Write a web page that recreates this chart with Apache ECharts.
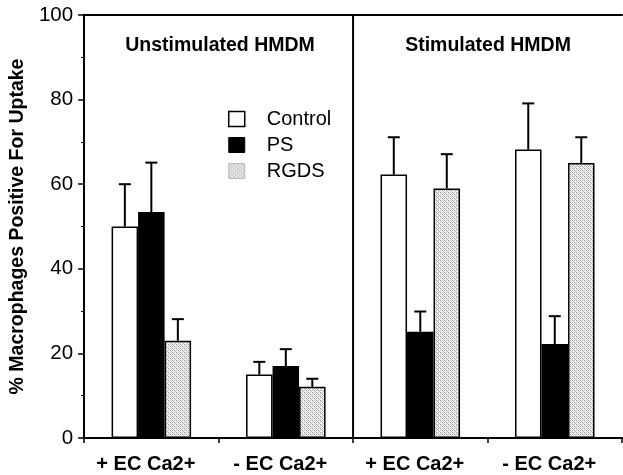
<!DOCTYPE html>
<html>
<head>
<meta charset="utf-8">
<script src="https://cdn.jsdelivr.net/npm/echarts@6/dist/echarts.min.js"></script>
<style>html,body{margin:0;padding:0;background:#fff;}#c{width:623px;height:475px;}</style>
</head>
<body>
<div id="c"></div>
<script>
const categories = ['+ EC Ca2+', '- EC Ca2+', '+ EC Ca2+', '- EC Ca2+'];
const seriesNames = ['Control', 'PS', 'RGDS'];
const controlValues = [50, 15, 62.3, 68.2];
const psValues = [53.4, 17, 25.1, 22.2];
const rgdsValues = [23, 12.1, 59, 65];
const controlErrTop = [60, 18, 71.1, 79.1];
const psErrTop = [65.1, 21, 29.9, 28.8];
const rgdsErrTop = [28.1, 14, 67.1, 71.1];
const yTicks = [0, 20, 40, 60, 80, 100];
const panelTitles = ['Unstimulated HMDM', 'Stimulated HMDM'];
const dividerAt = [2];

// stipple pattern
const pc = document.createElement('canvas');
pc.width = 4; pc.height = 4;
const pctx = pc.getContext('2d');
pctx.fillStyle = '#f4f4f4'; pctx.fillRect(0, 0, 4, 4);
pctx.fillStyle = '#9a9a9a'; pctx.fillRect(0, 0, 1, 1); pctx.fillRect(2, 2, 1, 1);
pctx.fillStyle = '#b8b8b8'; pctx.fillRect(1, 1, 1, 1); pctx.fillRect(3, 3, 1, 1); pctx.fillRect(2, 0, 1, 1); pctx.fillRect(0, 2, 1, 1);

const BAR_W = 26.5;
const FONT = 'Liberation Sans, Arial, Helvetica, sans-serif';
const fills = ['#ffffff', '#000000', {image: pc, repeat: 'repeat'}];
const vals = [controlValues, psValues, rgdsValues];
const errs = [controlErrTop, psErrTop, rgdsErrTop];

const chart = echarts.init(document.getElementById('c'), null, {renderer: 'canvas'});

const barSeries = seriesNames.map((n, i) => ({
  name: n, type: 'bar', data: vals[i], barWidth: BAR_W, barGap: '0%',
  itemStyle: {color: fills[i], borderColor: '#000', borderWidth: 1.5},
  z: 2
}));

const errSeries = seriesNames.map((n, i) => ({
  type: 'custom', name: n + ' err', z: 3, silent: true,
  data: categories.map((c, k) => [k, vals[i][k], errs[i][k]]),
  renderItem: function (params, api) {
    const k = api.value(0);
    const p0 = api.coord([k, api.value(1)]);
    const p1 = api.coord([k, api.value(2)]);
    const x = p0[0] + (i - 1) * BAR_W;
    return {
      type: 'group', children: [
        {type: 'line', shape: {x1: x, y1: p0[1], x2: x, y2: p1[1]}, style: {stroke: '#000', lineWidth: 2}},
        {type: 'line', shape: {x1: x - 6, y1: p1[1], x2: x + 6, y2: p1[1]}, style: {stroke: '#000', lineWidth: 2}}
      ]
    };
  }
}));

chart.setOption({
  animation: false,
  textStyle: {fontFamily: FONT},
  grid: {left: 82, right: 1, top: 15, bottom: 37, containLabel: false},
  legend: {
    orient: 'vertical', left: 223, top: 104, itemWidth: 16, itemHeight: 15, itemGap: 6,
    data: [
      {name: 'Control', itemStyle: {color: '#fff', borderColor: '#000', borderWidth: 1.5}},
      {name: 'PS', itemStyle: {color: '#000', borderColor: '#000', borderWidth: 1}},
      {name: 'RGDS', itemStyle: {color: {image: pc, repeat: 'repeat'}, borderColor: '#bbb', borderWidth: 1}}
    ],
    icon: 'rect',
    textStyle: {fontSize: 20, color: '#000', padding: [0, 0, 0, 17], fontFamily: FONT},
    selectedMode: false
  },
  title: [
    {text: panelTitles[0], left: 215, top: 31, textAlign: 'center', textStyle: {fontSize: 19.5, fontWeight: 'bold', color: '#000', fontFamily: FONT}},
    {text: panelTitles[1], left: 483, top: 31, textAlign: 'center', textStyle: {fontSize: 19.5, fontWeight: 'bold', color: '#000', fontFamily: FONT}}
  ],
  xAxis: [
    {
      type: 'category', data: categories, position: 'bottom',
      axisLine: {lineStyle: {color: '#000', width: 2}},
      axisTick: {show: true, length: 5, lineStyle: {color: '#000', width: 1.5}},
      axisLabel: {color: '#000', fontSize: 20, fontWeight: 'bold', margin: 16, padding: [0, 11, 0, 0], fontFamily: FONT}
    },
    {
      type: 'value', min: 0, max: 4, position: 'top',
      axisLine: {show: true, onZero: false, lineStyle: {color: '#000', width: 2}},
      axisTick: {show: false}, axisLabel: {show: false}, splitLine: {show: false}
    }
  ],
  yAxis: {
    type: 'value', min: 0, max: 100, interval: 20,
    name: '% Macrophages Positive For Uptake', nameLocation: 'middle', nameGap: 52,
    nameTextStyle: {fontSize: 19.5, fontWeight: 'bold', color: '#000', fontFamily: FONT},
    axisLine: {show: true, lineStyle: {color: '#000', width: 2}},
    axisTick: {show: true, length: 6, lineStyle: {color: '#000', width: 1.5}},
    minorTick: {show: true, splitNumber: 2, length: 3, lineStyle: {color: '#000', width: 1}},
    axisLabel: {color: '#000', fontSize: 20.5, margin: 11, fontFamily: FONT, formatter: v => yTicks.includes(v) ? String(v) : ''},
    splitLine: {show: false}
  },
  series: barSeries.concat(errSeries).concat([{
    type: 'custom', xAxisIndex: 1, silent: true, z: 4,
    data: dividerAt.map(d => [d]),
    renderItem: function (params, api) {
      const a = api.coord([api.value(0), 0]);
      const b = api.coord([api.value(0), 100]);
      return {type: 'line', shape: {x1: a[0], y1: a[1], x2: b[0], y2: b[1]}, style: {stroke: '#000', lineWidth: 2}};
    }
  }])
});
</script>
</body>
</html>
